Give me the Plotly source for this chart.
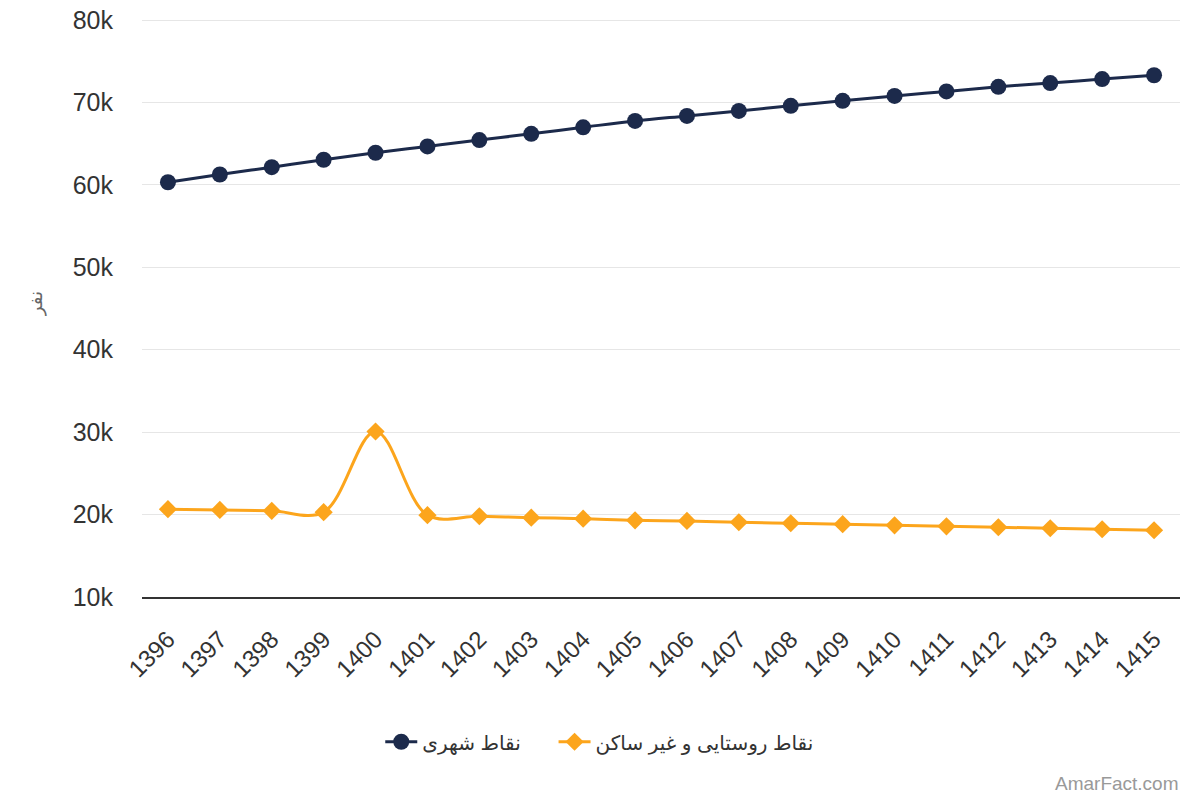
import plotly.graph_objects as go

# سال‌ها و جمعیت (نفر)
years = [str(y) for y in range(1396, 1416)]
urban = [60320, 61260, 62150, 63050, 63900, 64670, 65440, 66200, 66990, 67760,
         68370, 68980, 69590, 70200, 70800, 71340, 71900, 72350, 72840, 73300]
rural = [20660, 20570, 20450, 20290, 30080, 19930, 19800, 19630, 19500, 19300,
         19230, 19070, 18950, 18830, 18700, 18580, 18460, 18340, 18220, 18100]

urban_name = "نقاط شهری"
rural_name = "نقاط روستایی و غیر ساکن"
y_ticks = [10000, 20000, 30000, 40000, 50000, 60000, 70000, 80000]
y_tick_text = ["10k", "20k", "30k", "40k", "50k", "60k", "70k", "80k"]

FONT = "Liberation Sans, DejaVu Sans, Arial, sans-serif"
PAD = "\u00a0" * 5  # فاصله بین دو آیتم راهنما

fig = go.Figure()
fig.add_trace(go.Scatter(
    x=years, y=urban, name=urban_name + PAD, mode="lines+markers",
    line=dict(color="#1c2a4b", width=3, shape="spline"),
    marker=dict(symbol="circle", size=16, color="#1c2a4b"),
))
fig.add_trace(go.Scatter(
    x=years, y=rural, name=rural_name, mode="lines+markers",
    line=dict(color="#fca51c", width=3, shape="spline", smoothing=1),
    marker=dict(symbol="diamond", size=14, color="#fca51c"),
))

fig.update_layout(
    width=1200, height=800,
    margin=dict(l=134, r=28, t=10, b=211, autoexpand=False),
    plot_bgcolor="white", paper_bgcolor="white",
    font=dict(family=FONT, color="#333333"),
    showlegend=True,
    legend=dict(orientation="h", x=0.441, xanchor="center", y=-0.25, yanchor="middle",
                font=dict(size=20, color="#333333"), itemwidth=32,
                traceorder="normal"),
    xaxis=dict(
        type="category", range=[-0.5, 19.5], automargin=False,
        tickangle=-45, tickfont=dict(size=24, color="#333333"),
        ticklabelstandoff=17,
        showgrid=False, showline=True, linecolor="#333333", linewidth=1.5,
        ticks="", fixedrange=True,
    ),
    yaxis=dict(
        range=[10000, 80250], tickvals=y_ticks, ticktext=y_tick_text,
        automargin=False, ticklabelstandoff=28, ticklabeloverflow="allow",
        tickfont=dict(size=25, color="#333333"),
        gridcolor="#e6e6e6", gridwidth=1, zeroline=False,
    ),
)

# عنوان محور عمودی
fig.add_annotation(
    text="نفر", xref="paper", yref="paper",
    x=-0.102, y=0.506, xanchor="center", yanchor="middle", textangle=-90,
    showarrow=False, font=dict(size=18, color="#666666"),
)

fig.add_annotation(
    text="AmarFact.com", xref="paper", yref="paper",
    x=1.0, y=-0.322, xanchor="right", yanchor="middle", xshift=1,
    showarrow=False, font=dict(size=19, color="#999999"),
)

fig.write_html("out.html")
